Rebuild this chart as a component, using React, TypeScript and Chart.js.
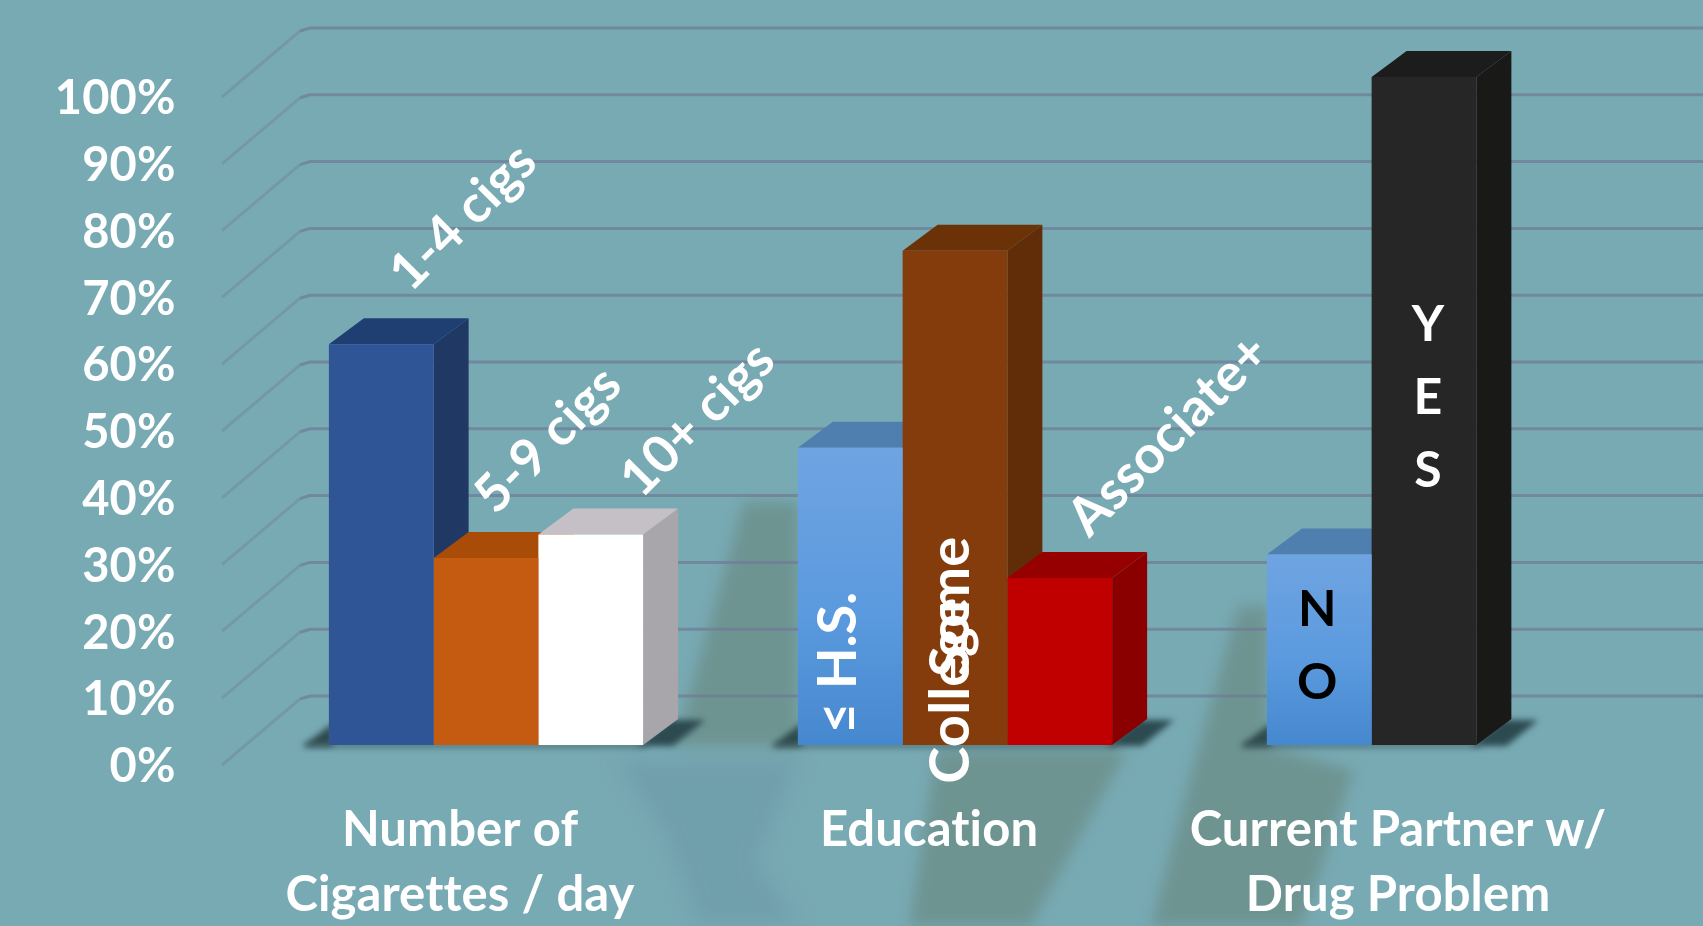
import React, { useEffect, useRef } from "react";
import { Chart, registerables } from "chart.js";

Chart.register(...registerables);

const categories = [["Number of", "Cigarettes / day"], ["Education"], ["Current Partner w/", "Drug Problem"]];
const yTicks = [0, 10, 20, 30, 40, 50, 60, 70, 80, 90, 100];

// One series per position inside a group; the third group has only two bars.
const firstBars = [60, 44.5, 28.5];
const secondBars = [28, 74, 100];
const thirdBars = [31.5, 25, null];

const firstNames = ["1-4 cigs", "≤ H.S.", "N|O"];
const secondNames = ["5-9 cigs", "Some|College", "Y|E|S"];
const thirdNames = ["10+ cigs", "Associate+", ""];

const faceColors = [
  ["#2f5597", "gradient", "gradient"],
  ["#c55a11", "#843c0c", "#262626"],
  ["#ffffff", "#c00000", "#000000"],
];
const sideColors = [
  ["#1f3864", "#3f6ea6", "#3f6ea6"],
  ["#9c470c", "#612c08", "#191918"],
  ["#a9a6ab", "#8a0000", "#000000"],
];
const topColors = [
  ["#1f3f73", "#4f7fae", "#4f7fae"],
  ["#a84c08", "#6b3207", "#1c1c1c"],
  ["#c5c0c5", "#960000", "#000000"],
];

const DEPTH_X = 35;
const DEPTH_Y = 26;
const WALL_FRONT_X = 222;
const WALL_BACK_X = 310;
const WALL_FRONT_DY = 20;
const WALL_BACK_DY = -49;
const LABEL_FONT = "Lato";

type Placement = { dx: number; dy: number; rot: number; size: number; step?: number; color?: string; stepY?: number[] };

// Where each bar's name sits, relative to the top centre of the bar.
const firstPlacement: Placement[] = [
  { dx: 82, dy: -127, rot: -45, size: 52 },
  { dx: -12, dy: 215, rot: -90, size: 54 },
  { dx: -2, dy: 55, rot: 0, size: 50, step: 73, color: "#000000" },
];
const secondPlacement: Placement[] = [
  { dx: 62, dy: -118, rot: -45, size: 52 },
  { dx: -4, dy: 356, rot: -90, size: 56, stepY: [0, 84] },
  { dx: 4, dy: 248, rot: 0, size: 50, step: 73 },
];
const thirdPlacement: Placement[] = [
  { dx: 107, dy: -115, rot: -45, size: 52 },
  { dx: 109, dy: -143, rot: -45, size: 53 },
  { dx: 0, dy: 0, rot: 0, size: 46 },
];

const allNames = [firstNames, secondNames, thirdNames];
const allPlacements = [firstPlacement, secondPlacement, thirdPlacement];

// Backdrop streaks of the slide, as fractions of the canvas.
const greyStreaks = [
  [[0.437, 0.542], [0.469, 0.542], [0.469, 0.806], [0.396, 0.806]],
  [[0.55, 0.81], [0.662, 0.81], [0.605, 1.0], [0.534, 1.0]],
  [[0.727, 0.655], [0.745, 0.655], [0.745, 0.806], [0.795, 0.832], [0.764, 1.0], [0.676, 1.0], [0.7, 0.832]],
];
const blueStreaks = [
  [[0.36, 0.82], [0.47, 0.82], [0.445, 0.93], [0.47, 1.0], [0.41, 1.0], [0.39, 0.9]],
];

const fillShapes = (ctx: any, shapes: number[][][], color: string, w: number, h: number) => {
  ctx.fillStyle = color;
  shapes.forEach((poly) => {
    ctx.beginPath();
    poly.forEach(([fx, fy], i) => (i ? ctx.lineTo(fx * w, fy * h) : ctx.moveTo(fx * w, fy * h)));
    ctx.closePath();
    ctx.fill();
  });
};

const backdrop = {
  id: "backdrop",
  beforeDraw(chart: any) {
    const { ctx, width, height } = chart;
    // A tiny spacing keeps the "ti" and "tt" pairs as separate letters.
    ctx.letterSpacing = "0.1px";
    ctx.save();
    ctx.fillStyle = "#78aab4";
    ctx.fillRect(0, 0, width, height);
    ctx.filter = "blur(10px)";
    fillShapes(ctx, blueStreaks, "rgba(100,140,160,0.32)", width, height);
    ctx.filter = "blur(7px)";
    fillShapes(ctx, greyStreaks, "rgba(108,142,138,0.8)", width, height);
    ctx.restore();
  },
};

const walls = {
  id: "walls",
  beforeDatasetsDraw(chart: any) {
    const { ctx, width } = chart;
    const y = chart.scales.y;
    ctx.save();
    yTicks.forEach((v) => {
      const py = y.getPixelForValue(v);
      ctx.strokeStyle = "rgba(112,128,150,0.42)";
      ctx.lineWidth = 3;
      ctx.beginPath();
      ctx.moveTo(WALL_FRONT_X, py + WALL_FRONT_DY);
      ctx.lineTo(WALL_BACK_X - 10, py + WALL_BACK_DY + 3);
      ctx.stroke();
      ctx.strokeStyle = "rgba(112,124,150,0.72)";
      ctx.beginPath();
      ctx.moveTo(WALL_BACK_X - 10, py + WALL_BACK_DY + 3);
      ctx.lineTo(WALL_BACK_X, py + WALL_BACK_DY);
      ctx.lineTo(width, py + WALL_BACK_DY);
      ctx.stroke();
    });
    ctx.restore();
  },
};

const forEachBar = (chart: any, fn: (bar: any, ds: number, cat: number) => void) => {
  categories.forEach((_, cat) => {
    allNames.forEach((_n, ds) => {
      const bar = chart.getDatasetMeta(ds).data[cat];
      if (bar && !bar.skip && chart.data.datasets[ds].data[cat] != null) fn(bar, ds, cat);
    });
  });
};

const polygon = (ctx: any, pts: number[][], fill: string) => {
  ctx.fillStyle = fill;
  ctx.beginPath();
  pts.forEach(([x, y], i) => (i ? ctx.lineTo(x, y) : ctx.moveTo(x, y)));
  ctx.closePath();
  ctx.fill();
};

// Floor shadows and the top and side faces that turn the flat bars into boxes.
const boxes = {
  id: "boxes",
  beforeDatasetsDraw(chart: any) {
    const { ctx } = chart;
    const base = chart.scales.y.getPixelForValue(0);
    ctx.save();
    ctx.filter = "blur(3px)";
    categories.forEach((_, cat) => {
      const bars: any[] = [];
      allNames.forEach((_n, ds) => {
        if (chart.data.datasets[ds].data[cat] != null) bars.push(chart.getDatasetMeta(ds).data[cat]);
      });
      const left = bars[0].x - bars[0].width / 2;
      const last = bars[bars.length - 1];
      const right = last.x + last.width / 2;
      polygon(ctx, [[left - 26, base + 1], [left + 4, base - 22], [left + 4, base + 1]], "#2f4a4c");
      polygon(ctx, [[right - 6, base + 1], [right + 26, base - 25], [right + 62, base - 25], [right + 30, base + 1]], "#2c4a50");
      polygon(ctx, [[left - 24, base - 1], [right + 4, base - 1], [right + 4, base + 2], [left - 24, base + 2]], "#35525a");
    });
    ctx.restore();
    forEachBar(chart, (bar, ds, cat) => {
      const l = bar.x - bar.width / 2;
      const r = bar.x + bar.width / 2;
      polygon(ctx, [[r, bar.y], [r + DEPTH_X, bar.y - DEPTH_Y], [r + DEPTH_X, base - DEPTH_Y], [r, base]], sideColors[ds][cat]);
      polygon(ctx, [[l, bar.y], [l + DEPTH_X, bar.y - DEPTH_Y], [r + DEPTH_X, bar.y - DEPTH_Y], [r, bar.y]], topColors[ds][cat]);
    });
  },
};

const barNames = {
  id: "barNames",
  afterDatasetsDraw(chart: any) {
    const { ctx } = chart;
    forEachBar(chart, (bar, ds, cat) => {
      const text = allNames[ds][cat];
      if (!text) return;
      const p = allPlacements[ds][cat];
      ctx.save();
      ctx.fillStyle = p.color || "#ffffff";
      ctx.font = `bold ${p.size}px ${LABEL_FONT}`;
      ctx.textAlign = "center";
      ctx.textBaseline = "middle";
      text.split("|").forEach((line, i) => {
        const offset = p.stepY ? p.stepY[i] : (p.step || 0) * i;
        ctx.save();
        ctx.translate(bar.x + p.dx, bar.y + p.dy + offset);
        ctx.rotate((p.rot * Math.PI) / 180);
        ctx.fillText(line, 0, 0);
        ctx.restore();
      });
      ctx.restore();
    });
  },
};

const faceFill = (ds: number) => (c: any) => {
  const color = faceColors[ds][c.dataIndex];
  if (color !== "gradient") return color;
  const y = c.chart.scales.y;
  if (!y || c.raw == null) return "#5b9bd5";
  const g = c.chart.ctx.createLinearGradient(0, y.getPixelForValue(c.raw), 0, y.getPixelForValue(0));
  g.addColorStop(0, "#6fa4e2");
  g.addColorStop(0.55, "#5b9ade");
  g.addColorStop(1, "#4688cf");
  return g;
};

const dropPadding = (s: any) => {
  s.paddingLeft = 0;
  s.paddingRight = 0;
  s.paddingTop = 0;
  s.paddingBottom = 0;
};

export default function App() {
  const ref = useRef<HTMLCanvasElement>(null);
  useEffect(() => {
    document.body.style.margin = "0";
    const chart = new Chart(ref.current as HTMLCanvasElement, {
      type: "bar",
      data: {
        labels: categories as any,
        datasets: [firstBars, secondBars, thirdBars].map((data, ds) => ({
          data: data as any,
          backgroundColor: faceFill(ds),
          borderWidth: 0,
          barPercentage: 1,
          categoryPercentage: 0.67,
        })),
      },
      options: {
        responsive: false,
        animation: false,
        devicePixelRatio: 1,
        layout: { padding: { top: 77, right: 44.5, left: 0, bottom: 0 } },
        plugins: { legend: { display: false }, tooltip: { enabled: false } },
        scales: {
          x: {
            grid: { display: false, drawTicks: false },
            border: { display: false },
            ticks: {
              color: "#ffffff",
              font: { family: LABEL_FONT, weight: "bold", size: 49, lineHeight: 1.327 },
              padding: 53,
              maxRotation: 0,
              minRotation: 0,
              autoSkip: false,
              labelOffset: -26,
            },
            afterFit(s: any) {
              s.height = 181;
              dropPadding(s);
            },
          },
          y: {
            min: 0,
            max: 100,
            grid: { display: false, drawTicks: false },
            border: { display: false },
            ticks: {
              stepSize: 10,
              color: "#ffffff",
              font: { family: LABEL_FONT, weight: "bold", size: 47 },
              padding: 76,
              labelOffset: 22,
              callback: (v: any) => `${v}%`,
            },
            afterFit(s: any) {
              s.width = 251.5;
              dropPadding(s);
            },
          },
        },
      } as any,
      plugins: [backdrop, walls, boxes, barNames],
    });
    return () => chart.destroy();
  }, []);
  return <canvas ref={ref} width={1703} height={926} style={{ display: "block" }} />;
}
